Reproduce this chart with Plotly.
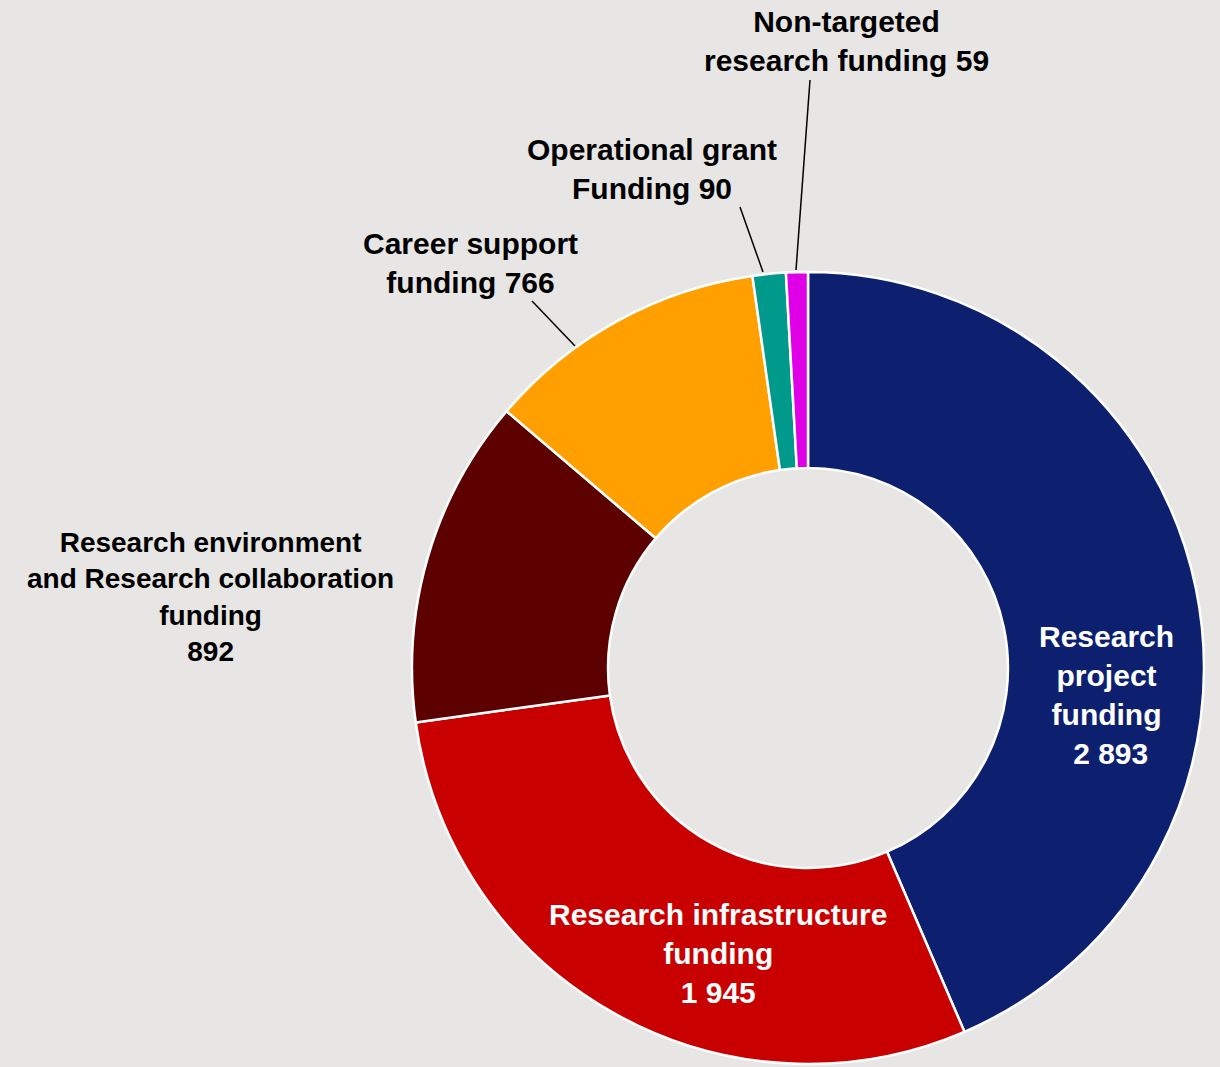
import plotly.graph_objects as go

W, H = 1220, 1067

categories = [
    "Research project funding",
    "Research infrastructure funding",
    "Research environment and Research collaboration funding",
    "Career support funding",
    "Operational grant Funding",
    "Non-targeted research funding",
]
values = [2893, 1945, 892, 766, 90, 59]
colors = ["#0D2070", "#C80000", "#5C0000", "#FFA000", "#009A8C", "#E000E8"]

label_text = [
    "Research<br>project<br>funding<br> {v}",
    "Research infrastructure<br>funding<br>{v}",
    "Research environment<br>and Research collaboration<br>funding<br>{v}",
    "Career support<br>funding {v}",
    "Operational grant<br>Funding {v}",
    "Non-targeted<br>research funding {v}",
]
label_pos = [(1106, 695), (718, 953), (210, 597), (470, 263), (652, 169), (846, 41)]
label_color = ["white", "white", "black", "black", "black", "black"]
label_size = [30, 30, 28, 30, 30, 30]
leaders = [None, None, None, ((532, 301), (575, 346)), ((740, 207), (763, 272)), ((810, 80), (796, 270))]


def fmt(v):
    return f"{v:,}".replace(",", " ")


def px(x, y):
    return x / W, 1 - y / H


def bold(t):
    return "<br>".join(f"<b>{s}</b>" for s in t.split("<br>"))


cx, cy, R = 808, 668, 396
fig = go.Figure(
    go.Pie(
        labels=categories,
        values=values,
        sort=False,
        direction="clockwise",
        rotation=0,
        hole=0.505,
        marker=dict(colors=colors, line=dict(color="white", width=2.5)),
        textinfo="none",
        hoverinfo="label+value",
        showlegend=False,
        domain=dict(x=[(cx - R) / W, (cx + R) / W], y=[(H - cy - R) / H, (H - cy + R) / H]),
    )
)

annotations = []
for txt, v, (x, y), c, s in zip(label_text, values, label_pos, label_color, label_size):
    ax, ay = px(x, y)
    annotations.append(
        dict(
            text=bold(txt.format(v=fmt(v))),
            x=ax, y=ay, xref="paper", yref="paper",
            xanchor="center", yanchor="middle", align="center",
            showarrow=False,
            font=dict(family="Liberation Sans, Arial, sans-serif", size=s, color=c),
        )
    )

shapes = []
for ld in leaders:
    if ld is None:
        continue
    (x0, y0), (x1, y1) = ld
    X0, Y0 = px(x0, y0)
    X1, Y1 = px(x1, y1)
    shapes.append(dict(type="line", xref="paper", yref="paper", x0=X0, y0=Y0, x1=X1, y1=Y1,
                       line=dict(color="black", width=1.5)))

fig.update_layout(
    width=W, height=H,
    margin=dict(l=0, r=0, t=0, b=0),
    paper_bgcolor="#E7E6E4",
    plot_bgcolor="#E7E6E4",
    annotations=annotations,
    shapes=shapes,
    font=dict(family="Liberation Sans, Arial, sans-serif"),
)

fig.write_html(
    "out.html",
    config={"displayModeBar": False},
    post_script="document.body.style.margin='0';document.body.style.background='#E7E6E4';",
)
